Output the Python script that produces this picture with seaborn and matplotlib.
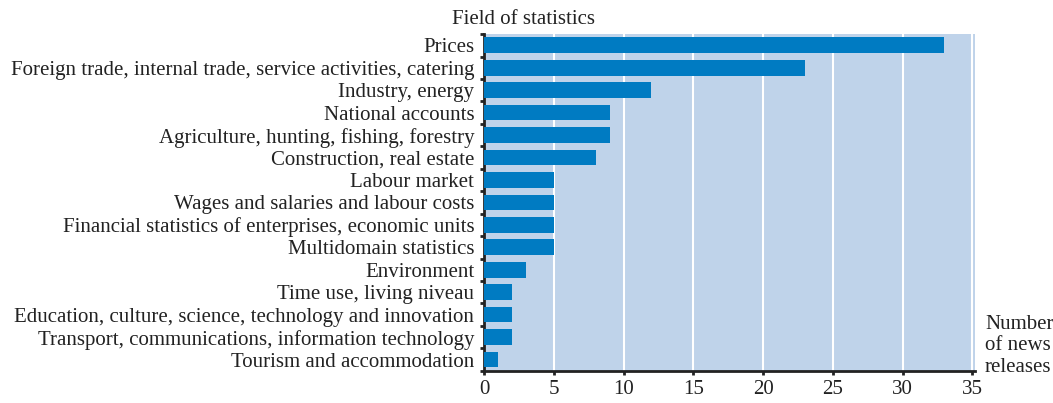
import numpy as np
import pandas as pd
import matplotlib.pyplot as plt
import seaborn as sns
from matplotlib.ticker import FixedLocator

# Data
fields = [
    "Prices",
    "Foreign trade, internal trade, service activities, catering",
    "Industry, energy",
    "National accounts",
    "Agriculture, hunting, fishing, forestry",
    "Construction, real estate",
    "Labour market",
    "Wages and salaries and labour costs",
    "Financial statistics of enterprises, economic units",
    "Multidomain statistics",
    "Environment",
    "Time use, living niveau",
    "Education, culture, science, technology and innovation",
    "Transport, communications, information technology",
    "Tourism and accommodation",
]
releases = [33, 23, 12, 9, 9, 8, 5, 5, 5, 5, 3, 2, 2, 2, 1]
x_ticks = [0, 5, 10, 15, 20, 25, 30, 35]

df = pd.DataFrame({"field": fields, "releases": releases})

sns.set_style("white")
plt.rcParams["font.family"] = ["Liberation Serif", "DejaVu Serif"]
fs = 15

fig = plt.figure(figsize=(10.53, 4.03), dpi=100)
ax = fig.add_axes([0.4596, 0.08, 0.4665, 0.8355])
ax.set_facecolor("#bfd3ea")

sns.barplot(data=df, x="releases", y="field", color="#007bc2", width=0.7,
            saturation=1, linewidth=0, ax=ax, zorder=3)

ax.set_xlim(0, 35.2)
ax.set_ylim(len(fields) - 0.5, -0.5)
ax.set_xticks(x_ticks)
ax.grid(axis="x", color="white", linewidth=1.5, zorder=1)
ax.set_axisbelow(True)

for side in ["top", "right"]:
    ax.spines[side].set_visible(False)
for side in ["left", "bottom"]:
    ax.spines[side].set_color("#222222")
    ax.spines[side].set_linewidth(2)

ax.set_xlabel("")
ax.set_ylabel("")

# ticks on the category axis sit between the bars
ax.yaxis.set_minor_locator(FixedLocator(np.arange(-0.5, len(fields), 1)))
ax.tick_params(axis="y", which="major", left=False, length=0, pad=7, labelsize=fs, colors="#222222")
ax.tick_params(axis="y", which="minor", left=True, length=3, width=2, color="#222222", direction="out")
ax.tick_params(axis="x", which="major", bottom=True, length=3, width=2, color="#222222",
               labelsize=fs, labelcolor="#222222", pad=4)

fig.text(452 / 1053, 1 - 20 / 403, "Field of statistics", fontsize=fs,
         ha="left", va="center", color="#222222")
fig.text(985 / 1053, 1 - 346 / 403, "Number\nof news\nreleases", fontsize=fs,
         ha="left", va="center", color="#222222", linespacing=1.2)

fig.savefig("out.png", dpi=100)
